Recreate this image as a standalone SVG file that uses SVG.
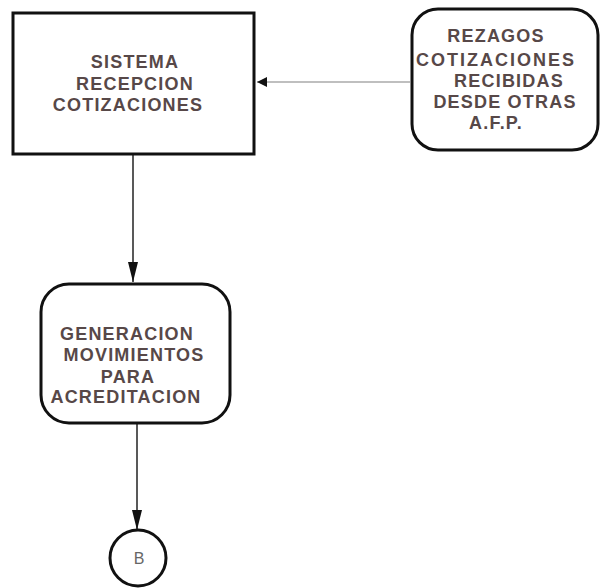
<svg xmlns="http://www.w3.org/2000/svg" width="601" height="588" viewBox="0 0 601 588">
<defs>
<style>
.box{fill:#fff;stroke:#111;stroke-width:3}
.t{font-family:"Liberation Sans",Arial,sans-serif;font-size:18px;font-weight:bold;fill:#574848;text-anchor:middle;letter-spacing:1.2px}
.c{stroke:#222;stroke-width:1.5;fill:none}
.cl{stroke:#aaa;stroke-width:1.5;fill:none}
</style>
<marker id="ah" viewBox="0 0 10 10" refX="10" refY="5" markerWidth="10" markerHeight="10" markerUnits="userSpaceOnUse" orient="auto">
<path d="M0,0 L10,5 L0,10 z" fill="#111"/>
</marker>
<marker id="ahv" viewBox="0 0 20 10" refX="20" refY="5" markerWidth="20" markerHeight="10" markerUnits="userSpaceOnUse" orient="auto">
<path d="M0,0 L20,5 L0,10 z" fill="#111"/>
</marker>
</defs>
<rect width="601" height="588" fill="#fff"/>
<g id="connectors">
<line class="cl" x1="410" y1="82" x2="257" y2="82" marker-end="url(#ah)"/>
<line class="c" x1="133" y1="155" x2="133" y2="282" marker-end="url(#ahv)"/>
<line class="c" x1="137" y1="424" x2="137" y2="530" marker-end="url(#ahv)"/>
</g>
<g id="sistema">
<rect class="box" x="13" y="13" width="241" height="141"/>
<text class="t" x="135" y="68">SISTEMA</text>
<text class="t" x="135" y="90">RECEPCION</text>
<text class="t" x="128" y="111">COTIZACIONES</text>
</g>
<g id="rezagos">
<rect class="box" x="412" y="9" width="186" height="141" rx="26"/>
<text class="t" x="496" y="42">REZAGOS</text>
<text class="t" x="496" y="66" style="letter-spacing:2px">COTIZACIONES</text>
<text class="t" x="509" y="87">RECIBIDAS</text>
<text class="t" x="505" y="108">DESDE OTRAS</text>
<text class="t" x="496" y="129">A.F.P.</text>
</g>
<g id="generacion">
<rect class="box" x="41" y="284" width="189" height="139" rx="28"/>
<text class="t" x="127" y="340">GENERACION</text>
<text class="t" x="134" y="361">MOVIMIENTOS</text>
<text class="t" x="128" y="383">PARA</text>
<text class="t" x="126" y="403">ACREDITACION</text>
</g>
<g id="conector-b">
<circle cx="138" cy="558" r="28" fill="#fff" stroke="#111" stroke-width="3"/>
<text x="139" y="564" font-family="Liberation Sans,Arial,sans-serif" font-size="16" fill="#666" text-anchor="middle">B</text>
</g>
</svg>
